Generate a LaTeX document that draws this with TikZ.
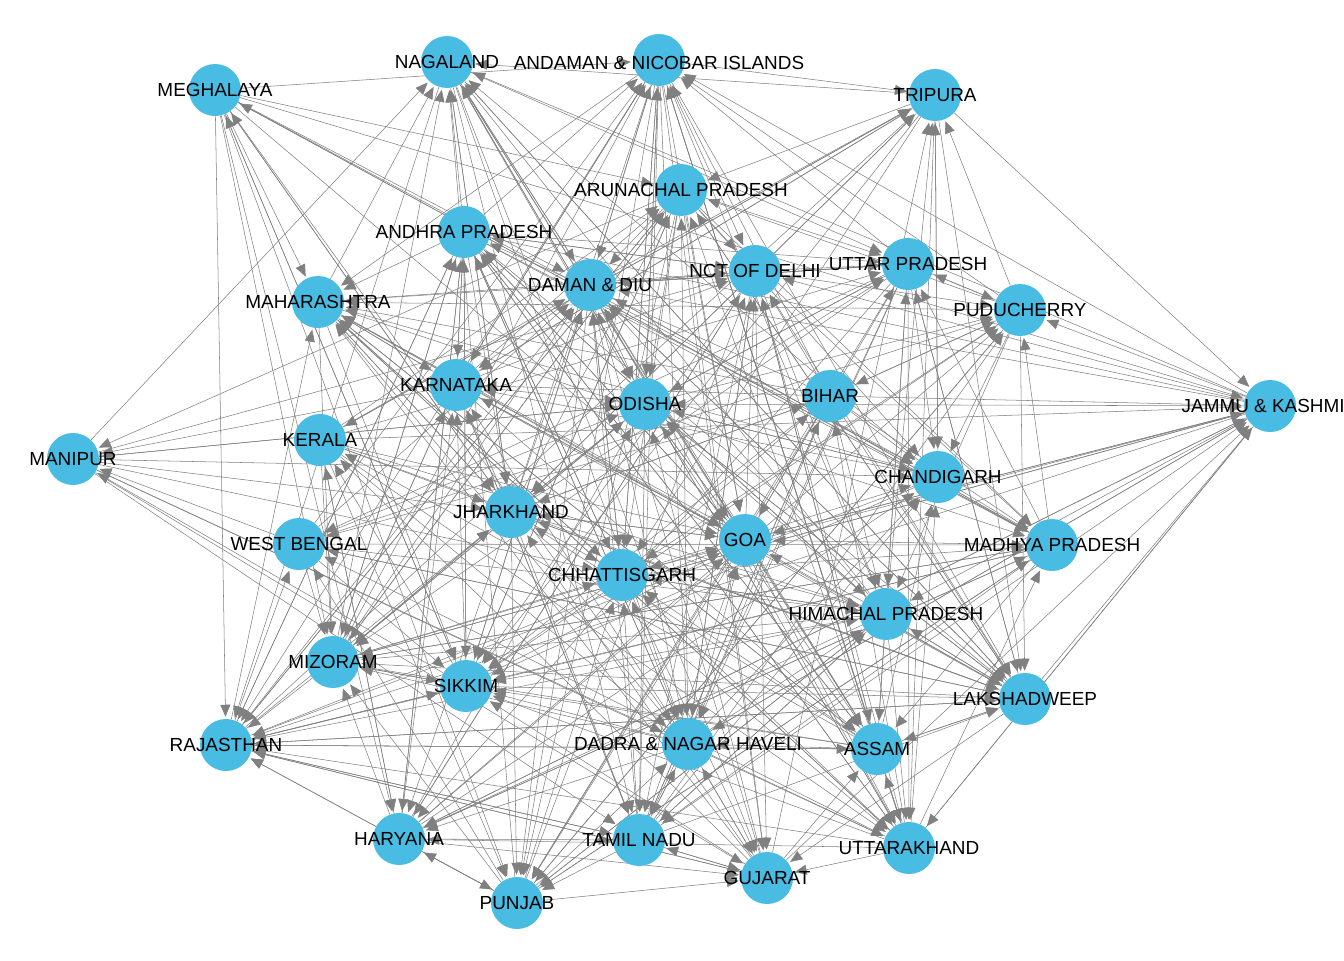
\documentclass[tikz,border=0pt]{standalone}
\usepackage{fontspec}
\setmainfont{Liberation Sans}
\usetikzlibrary{arrows.meta}
\definecolor{nodeblue}{RGB}{72,188,226}
\definecolor{edgegray}{RGB}{128,128,128}
\tikzset{
  vtx/.style={circle,fill=nodeblue,draw=none,minimum size=39pt,inner sep=0pt},
  lbl/.style={font=\fontsize{14.2}{14}\selectfont,text=black,inner sep=0pt},
  edge/.style={draw=edgegray,line width=0.4pt,shorten >=1.5pt,
    -{Triangle[length=9pt,width=7.5pt,fill=edgegray]}}
}
\begin{document}
\begin{tikzpicture}[x=0.75pt,y=-0.75pt]
\useasboundingbox (0,0) rectangle (1344,960);
% node coordinates
\coordinate (c1) at (215,90);
\coordinate (c2) at (447,62);
\coordinate (c3) at (659,60);
\coordinate (c4) at (935,95);
\coordinate (c5) at (681,190);
\coordinate (c6) at (464,232);
\coordinate (c7) at (590,285);
\coordinate (c8) at (755,271);
\coordinate (c9) at (908,264);
\coordinate (c10) at (318,302);
\coordinate (c11) at (1020,310);
\coordinate (c12) at (456,385);
\coordinate (c13) at (645,404);
\coordinate (c14) at (830,396);
\coordinate (c15) at (1270,406);
\coordinate (c16) at (73,459);
\coordinate (c17) at (320,440);
\coordinate (c18) at (938,477);
\coordinate (c19) at (511,512);
\coordinate (c20) at (745,540);
\coordinate (c21) at (299,544);
\coordinate (c22) at (1052,545);
\coordinate (c23) at (622,575);
\coordinate (c24) at (886,614);
\coordinate (c25) at (333,662);
\coordinate (c26) at (466,686);
\coordinate (c27) at (1025,699);
\coordinate (c28) at (226,745);
\coordinate (c29) at (688,744);
\coordinate (c30) at (877,749);
\coordinate (c31) at (399,839);
\coordinate (c32) at (639,840);
\coordinate (c33) at (909,848);
\coordinate (c34) at (767,878);
\coordinate (c35) at (517,903);
% vertices (invisible first, for clipping edges)
\foreach \k in {1,...,35} {\node[vtx,fill=none] (n\k) at (c\k) {};}
% edges
\def\wts{{0,0.3,0.35,0.35,0.3,0.35,0.4,0.45,0.45,0.35,0.45,0.4,0.4,0.35,0.08,0.3,0.1,0.3,0.4,0.35,0.45,0.15,0.4,0.5,0.4,0.45,0.45,0.5,0.45,0.5,0.25,0.4,0.4,0.5,0.5,0.3}}
\pgfmathsetseed{4711}
\foreach \i in {1,...,35} {
  \foreach \j in {1,...,35} {
    \ifnum\i=\j\relax\else
      \pgfmathsetmacro\rr{rnd}
      \pgfmathsetmacro\ww{\wts[\j]*1.12}
      \pgfmathtruncatemacro\ok{(\rr<\ww)?1:0}
      \ifnum\ok=1\relax
        \draw[edge] (n\i) -- (n\j);
      \fi
    \fi
  }
}
% filled vertices
\foreach \k in {1,...,35} {\node[vtx] (v\k) at (c\k) {};}
% labels
\node[lbl] (l1) at (c1) {MEGHALAYA};
\node[lbl] (l2) at (c2) {NAGALAND};
\node[lbl] (l3) at ([yshift=-2]c3) {ANDAMAN \& NICOBAR ISLANDS};
\node[lbl] (l4) at (c4) {TRIPURA};
\node[lbl] (l5) at (c5) {ARUNACHAL PRADESH};
\node[lbl] (l6) at (c6) {ANDHRA PRADESH};
\node[lbl] (l7) at (c7) {DAMAN \& DIU};
\node[lbl] (l8) at (c8) {NCT OF DELHI};
\node[lbl] (l9) at (c9) {UTTAR PRADESH};
\node[lbl] (l10) at (c10) {MAHARASHTRA};
\node[lbl] (l11) at (c11) {PUDUCHERRY};
\node[lbl] (l12) at (c12) {KARNATAKA};
\node[lbl] (l13) at (c13) {ODISHA};
\node[lbl] (l14) at (c14) {BIHAR};
\node[lbl] (l15) at (c15) {JAMMU \& KASHMIR};
\node[lbl] (l16) at (c16) {MANIPUR};
\node[lbl] (l17) at (c17) {KERALA};
\node[lbl] (l18) at (c18) {CHANDIGARH};
\node[lbl] (l19) at (c19) {JHARKHAND};
\node[lbl] (l20) at (c20) {GOA};
\node[lbl] (l21) at (c21) {WEST BENGAL};
\node[lbl] (l22) at (c22) {MADHYA PRADESH};
\node[lbl] (l23) at (c23) {CHHATTISGARH};
\node[lbl] (l24) at (c24) {HIMACHAL PRADESH};
\node[lbl] (l25) at (c25) {MIZORAM};
\node[lbl] (l26) at (c26) {SIKKIM};
\node[lbl] (l27) at (c27) {LAKSHADWEEP};
\node[lbl] (l28) at (c28) {RAJASTHAN};
\node[lbl] (l29) at (c29) {DADRA \& NAGAR HAVELI};
\node[lbl] (l30) at (c30) {ASSAM};
\node[lbl] (l31) at (c31) {HARYANA};
\node[lbl] (l32) at (c32) {TAMIL NADU};
\node[lbl] (l33) at (c33) {UTTARAKHAND};
\node[lbl] (l34) at (c34) {GUJARAT};
\node[lbl] (l35) at (c35) {PUNJAB};
\end{tikzpicture}
\end{document}
